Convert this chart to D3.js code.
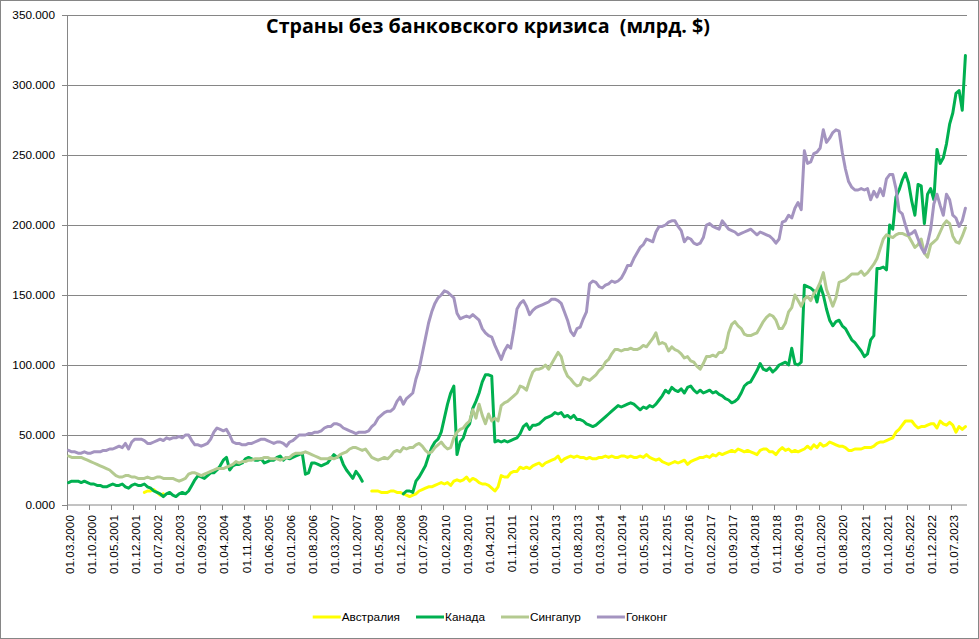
<!DOCTYPE html>
<html><head><meta charset="utf-8">
<script src="https://cdn.jsdelivr.net/npm/d3@7"></script>
<style>body{margin:0;background:#fff}svg{display:block}</style>
</head><body>
<svg id="chart" width="979" height="639"></svg>
<script>
const _ = null;
const title = "Страны без банковского кризиса  (млрд. $)";
const seriesNames = ["Австралия", "Канада", "Сингапур", "Гонконг"];
const seriesColors = ["#FFFF00", "#00B050", "#B4CA90", "#A494C0"];
// monthly categories: 01.03.2000 ... 01.11.2023
const months = d3.timeMonth.range(new Date(2000, 2, 1), new Date(2023, 11, 1));
const yTicks = [0, 50, 100, 150, 200, 250, 300, 350];
const tickLabels = ["01.03.2000","01.10.2000","01.05.2001","01.12.2001","01.07.2002","01.02.2003","01.09.2003","01.04.2004","01.11.2004","01.06.2005","01.01.2006","01.08.2006","01.03.2007","01.10.2007","01.05.2008","01.12.2008","01.07.2009","01.02.2010","01.09.2010","01.04.2011","01.11.2011","01.06.2012","01.01.2013","01.08.2013","01.03.2014","01.10.2014","01.05.2015","01.12.2015","01.07.2016","01.02.2017","01.09.2017","01.04.2018","01.11.2018","01.06.2019","01.01.2020","01.08.2020","01.03.2021","01.10.2021","01.05.2022","01.12.2022","01.07.2023"];

const australia = [
_,_,_,_,_,_,_,_,_,_,
_,_,_,_,_,_,_,_,_,_,_,_,
_,_,9,10,10,11,9,7,8,_,_,_,
_,_,_,_,_,_,_,_,_,_,_,_,
_,_,_,_,_,_,_,_,_,_,_,_,
_,_,_,_,_,_,_,_,_,_,_,_,
_,_,_,_,_,_,_,_,_,_,_,_,
_,_,_,_,_,_,_,_,_,_,_,_,
_,_,10,10,10,9,9,9,10,10,9,9,
8,7,6,7,8,10,11,12,13,13,14,15,
16,15,16,14,17,18,17,18,20,17,19,18,
16,15,15,14,12,10,13,21,20,20,23,24,
24,27,26,27,26,28,29,30,28,30,31,32,
33,35,31,33,34,35,34,35,34,34,33,34,
33,33,34,34,35,34,35,34,34,35,35,34,
35,34,34,35,34,36,34,33,32,33,31,30,
29,30,31,30,31,32,29,31,32,33,34,34,
35,34,36,35,37,36,37,38,39,38,40,39,
38,39,38,37,36,39,40,40,38,38,36,39,
41,39,40,38,39,38,39,40,42,40,43,41,
44,42,43,45,44,43,42,42,41,39,39,40,
40,40,41,41,41,42,44,45,45,46,47,48,
52,54,57,60,60,60,57,55,56,56,57,58,
58,55,60,58,57,59,57,52,56,54,56
];
const canada = [
16,17,17,17,16,17,16,15,15,14,
14,13,13,14,15,14,14,15,13,12,14,15,
14,14,15,13,12,10,9,8,6,8,9,7,
6,8,9,8,10,14,18,21,20,19,21,23,
23,25,28,32,34,25,28,29,29,30,33,34,
33,32,32,33,30,31,32,32,34,35,32,34,
33,34,35,36,37,22,23,30,30,29,28,29,
30,33,36,34,35,29,25,22,19,24,21,17,
_,_,_,_,_,_,_,_,_,_,_,_,
8,10,10,9,17,20,24,28,35,41,45,47,
52,62,72,80,85,36,45,48,55,58,69,74,
80,88,93,93,92,45,46,45,46,45,46,47,
48,51,56,58,54,57,57,58,60,62,63,64,
66,65,66,63,64,62,64,61,61,60,58,57,
56,57,59,61,63,65,67,69,71,70,71,72,
73,72,70,68,70,69,71,70,72,75,78,82,
80,84,82,81,83,80,84,85,82,80,82,80,
81,82,80,81,79,78,76,75,73,74,76,80,
85,87,88,92,96,101,97,96,98,95,97,100,
101,102,100,112,101,100,102,157,156,155,153,145,
157,150,140,132,128,131,132,128,126,122,118,116,
113,110,106,108,118,121,169,169,170,168,200,197,
220,225,232,237,230,217,207,229,228,201,222,226,
218,254,244,248,258,272,280,294,296,282,321
];
const singapore = [
35,34,34,34,34,33,32,31,30,29,
28,27,26,25,23,21,20,20,21,21,20,20,
19,19,19,20,19,19,20,20,19,19,19,19,
18,17,18,19,22,23,23,22,21,22,23,24,
25,26,26,26,27,28,29,31,30,31,31,32,
32,33,33,33,34,34,33,33,33,32,33,34,
34,36,37,37,37,38,37,36,35,34,33,33,
33,34,33,34,36,37,38,40,41,41,40,39,
40,37,34,33,32,33,34,33,35,38,39,38,
41,40,41,41,43,44,42,39,37,38,41,43,
45,42,40,41,48,52,54,55,58,60,68,62,
72,64,58,65,60,62,60,71,73,74,76,78,
80,85,84,82,89,95,97,97,98,100,97,101,
105,109,106,97,92,90,87,85,86,91,90,89,
91,93,96,98,102,104,108,111,111,110,111,111,
112,111,111,112,114,113,116,119,123,115,116,115,
110,113,111,110,108,105,106,103,102,99,97,101,
106,106,107,106,109,109,112,123,129,131,128,126,
122,121,121,122,123,127,131,134,136,135,132,126,
126,130,138,141,150,146,142,147,149,146,151,154,
159,166,154,148,142,148,159,160,161,163,165,165,
165,167,164,166,169,172,176,183,190,193,192,191,
193,194,194,193,192,188,184,186,190,180,177,186,
188,190,195,200,203,201,192,188,187,192,198
];
const hongkong = [
39,38,38,37,37,38,37,37,38,38,
38,39,39,40,40,41,42,41,44,40,45,47,
47,47,46,44,44,45,46,47,46,48,47,48,
48,49,48,50,50,46,43,43,42,43,44,47,
52,55,54,53,54,50,45,44,44,43,43,44,
44,45,46,47,47,46,45,44,45,45,44,42,
45,46,48,50,50,50,51,51,52,52,53,55,
56,56,58,58,57,55,54,53,52,51,52,52,
52,53,56,58,62,64,66,67,67,69,74,77,
72,76,78,80,90,97,108,119,130,138,144,148,
150,153,152,150,148,137,133,134,135,134,136,134,
132,126,123,121,120,114,109,104,110,114,112,125,
140,144,146,142,136,139,141,142,143,144,145,147,
147,146,144,138,132,124,121,126,127,133,138,158,
160,159,156,155,157,158,160,159,160,162,166,171,
171,176,180,184,186,190,189,188,195,199,199,200,
202,203,203,199,196,188,191,190,187,186,187,191,
200,201,199,198,197,203,200,197,196,195,193,194,
195,196,197,195,193,195,194,193,192,190,187,190,
202,203,207,205,212,216,211,253,244,245,251,252,
255,268,259,262,266,268,267,252,240,231,227,225,
225,226,225,226,218,224,220,226,221,233,236,236,
226,210,208,200,193,194,196,190,184,180,187,197,
215,222,214,207,222,218,207,205,199,203,212
];
const seriesData = [australia, canada, singapore, hongkong];

const W = 979, H = 639;
const plot = {left: 67, right: 967, top: 15, bottom: 505};
const axisColor = "#868686";
const font = "'Liberation Sans', Arial, sans-serif";

const svg = d3.select("#chart");
svg.append("rect").attr("x", 0.5).attr("y", 0.5).attr("width", W - 1).attr("height", H - 1)
  .attr("fill", "#fff").attr("stroke", axisColor);

const x = d3.scaleBand().domain(d3.range(months.length)).range([plot.left, plot.right]).padding(0);
const cx = i => x(i) + x.bandwidth() / 2;
const y = d3.scaleLinear().domain([0, 350]).range([plot.bottom, plot.top]);

// gridlines
svg.append("g").attr("transform", `translate(${plot.left},0)`)
  .call(d3.axisLeft(y).tickValues(yTicks.filter(d => d > 0)).tickSize(-(plot.right - plot.left)).tickFormat(""))
  .call(g => g.select(".domain").remove())
  .call(g => g.selectAll("line").attr("stroke", axisColor));

// y axis
svg.append("g").attr("transform", `translate(${plot.left},0)`)
  .call(d3.axisLeft(y).tickValues(yTicks).tickSize(5).tickPadding(7).tickFormat(d3.format(".3f")))
  .call(g => g.select(".domain").attr("stroke", axisColor))
  .call(g => g.selectAll("line").attr("stroke", axisColor))
  .call(g => g.selectAll("text").attr("font-family", font).attr("font-size", "11.8px").attr("fill", "#000"));

// x axis line
svg.append("line").attr("x1", plot.left).attr("x2", plot.right)
  .attr("y1", y(0)).attr("y2", y(0)).attr("stroke", axisColor);

const tickIdx = tickLabels.map((_, k) => k * 7);
const xg = svg.append("g");
xg.selectAll("line").data(tickIdx).join("line")
  .attr("x1", i => Math.round(x(i)) + 0.5).attr("x2", i => Math.round(x(i)) + 0.5)
  .attr("y1", y(0)).attr("y2", y(0) + 5).attr("stroke", axisColor);
xg.selectAll("text").data(tickIdx).join("text")
  .attr("transform", i => `translate(${cx(i) + 1},${y(0) + 10}) rotate(-90)`)
  .attr("text-anchor", "end").attr("dy", "0.35em")
  .attr("font-family", font).attr("font-size", "11.8px").attr("fill", "#000")
  .text((i, k) => tickLabels[k]);

// lines
const line = d3.line().defined(d => d != null).x((d, i) => cx(i)).y(d => y(d));
seriesData.forEach((data, s) => {
  svg.append("path").datum(data).attr("d", line)
    .attr("fill", "none").attr("stroke", seriesColors[s]).attr("stroke-width", 3)
    .attr("stroke-linejoin", "round").attr("stroke-linecap", "round");
});

// title
const t = svg.append("text").attr("x", 488).attr("y", 33).attr("text-anchor", "middle")
  .style("white-space", "pre").attr("xml:space", "preserve")
  .attr("font-family", "'Open Sans', 'Noto Sans', sans-serif").attr("font-weight", "bold")
  .attr("font-size", "18px").attr("fill", "#000").text(title);
const tw = t.node().getComputedTextLength();
t.attr("font-size", (18 * 444 / tw).toFixed(2) + "px");

// legend
const lg = svg.append("g");
const items = seriesNames.map((n, s) => {
  const g = lg.append("g");
  g.append("line").attr("x1", 0).attr("x2", 28).attr("y1", 0).attr("y2", 0)
    .attr("stroke", seriesColors[s]).attr("stroke-width", 3);
  const tx = g.append("text").attr("x", 29).attr("dy", "0.35em")
    .attr("font-family", font).attr("font-size", "11.8px").attr("fill", "#000").text(n);
  return {g, w: 29 + tx.node().getComputedTextLength()};
});
const gap = 16;
const total = d3.sum(items, d => d.w) + gap * (items.length - 1);
let lx = 490 - total / 2;
items.forEach(it => { it.g.attr("transform", `translate(${lx},617)`); lx += it.w + gap; });

if (seriesData.some(a => a.length !== months.length)) console.warn("length mismatch", seriesData.map(a => a.length), months.length);
</script>
</body></html>
